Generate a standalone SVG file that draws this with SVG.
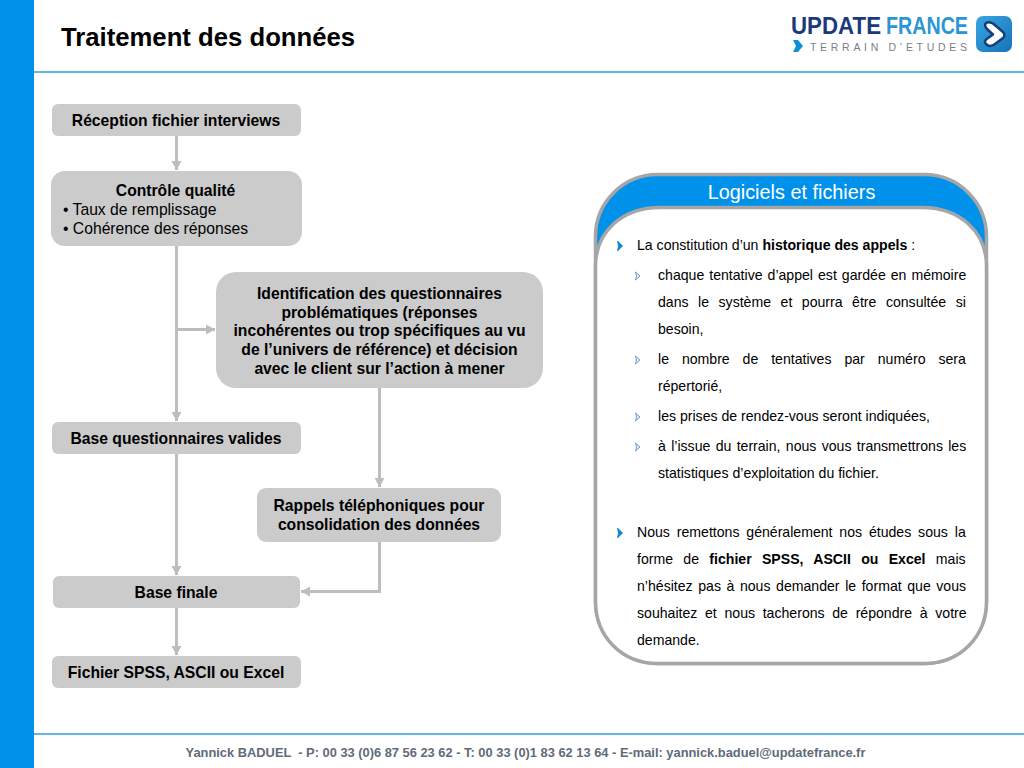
<svg xmlns="http://www.w3.org/2000/svg" width="1024" height="768" viewBox="0 0 1024 768">
<style>
text{font-family:"Liberation Sans",Arial,sans-serif;fill:#000}
.n{fill:#CBCBCB}
.t{font-size:15.7px;font-weight:bold;text-anchor:middle}
.r{font-size:15.7px}
.b{font-size:14.1px}
.c{fill:none;stroke:#BDBDBD;stroke-width:3}
.bl{font-weight:bold}
</style>
<defs>
<marker id="a" markerWidth="11" markerHeight="11" refX="9" refY="5" orient="auto" markerUnits="userSpaceOnUse"><path d="M0 0L9 5L0 10Z" fill="#BDBDBD"/></marker>
<linearGradient id="ic" x1="0" y1="0" x2="1" y2="1"><stop offset="0" stop-color="#3AA6E2"/><stop offset="1" stop-color="#1673B8"/></linearGradient>
<path id="b1" d="M617.500 -5L622.500 0L617.500 5L618.500 0Z" fill="#0F7FD0" stroke="#0F7FD0" stroke-width="0.800"/>
<path id="b2" d="M635.500 -4L640 0L635.500 4L636.500 0Z" fill="#E4EEF8" stroke="#6F9CCB" stroke-width="1"/>
</defs>
<rect width="1024" height="768" fill="#fff"/>
<rect id="sidebar" width="34" height="768" fill="#0091EA"/>
<rect x="34" y="71" width="990" height="2" fill="#66B5DE"/>
<rect x="34" y="733" width="990" height="2" fill="#66B5DE"/>
<text x="61" y="45.500" font-size="25.700" font-weight="bold">Traitement des données</text>
<g id="logo">
<text x="791" y="34" font-size="23" font-weight="bold" style="fill:#1B3A7E" textLength="90" lengthAdjust="spacingAndGlyphs">UPDATE</text>
<text x="886" y="34" font-size="23" font-weight="bold" style="fill:#2B96D2" textLength="82" lengthAdjust="spacingAndGlyphs">FRANCE</text>
<path d="M793 40L798 40L803 46L798 52L793 52L796 46Z" fill="#0F8FD8"/>
<text x="810" y="50.500" font-size="10.500" style="fill:#7A8088" textLength="157">TERRAIN D’ETUDES</text>
<rect x="976" y="16" width="36" height="36" rx="7" fill="url(#ic)"/>
<path d="M986 23C990 21 993 23 996 26L1003 32C1005 34 1005 36 1003 38L995 44C991 47 988 46 986 44C984 42 985 40 988 38L993 34.500L988 30C985 27 984 25 986 23Z" fill="#fff" stroke="#123F7A" stroke-width="2.500" stroke-linejoin="round"/>
</g>
<g id="connectors">
<path class="c" d="M176.500 136V170" marker-end="url(#a)"/>
<path class="c" d="M176.500 245V421" marker-end="url(#a)"/>
<path class="c" d="M177 329.500H215" marker-end="url(#a)"/>
<path class="c" d="M176.500 453V575" marker-end="url(#a)"/>
<path class="c" d="M176.500 607V655" marker-end="url(#a)"/>
<path class="c" d="M379.500 388V487" marker-end="url(#a)"/>
<path class="c" d="M379.500 541V591.500H301" marker-end="url(#a)"/>
</g>
<g id="n1"><rect class="n" x="52" y="104" width="249" height="32" rx="6"/><text class="t" x="176" y="125.500">Réception fichier interviews</text></g>
<g id="n2"><rect class="n" x="51" y="171" width="251" height="75" rx="14"/><text class="t" x="175.500" y="195.500">Contrôle qualité</text><text class="r" x="63" y="214.500">• Taux de remplissage</text><text class="r" x="63" y="233.500">• Cohérence des réponses</text></g>
<g id="n3"><rect class="n" x="216" y="272" width="327" height="116" rx="20"/>
<text class="t" x="379.500" y="298.500">Identification des questionnaires</text>
<text class="t" x="379.500" y="317.500">problématiques (réponses</text>
<text class="t" x="379.500" y="336">incohérentes ou trop spécifiques au vu</text>
<text class="t" x="379.500" y="354.500">de l’univers de référence) et décision</text>
<text class="t" x="379.500" y="373.500">avec le client sur l’action à mener</text></g>
<g id="n4"><rect class="n" x="52" y="422" width="249" height="32" rx="6"/><text class="t" x="176" y="443.500">Base questionnaires valides</text></g>
<g id="n5"><rect class="n" x="257" y="488" width="244" height="54" rx="9"/><text class="t" x="379" y="511">Rappels téléphoniques pour</text><text class="t" x="379" y="530">consolidation des données</text></g>
<g id="n6"><rect class="n" x="53" y="576" width="247" height="32" rx="6"/><text class="t" x="176" y="597.500">Base finale</text></g>
<g id="n7"><rect class="n" x="52" y="656" width="249" height="32" rx="6"/><text class="t" x="176" y="677.500">Fichier SPSS, ASCII ou Excel</text></g>
<g id="panel">
<rect x="595.500" y="174.500" width="391" height="489" rx="62" fill="#0091EA" stroke="#A6A6A6" stroke-width="3.500"/>
<path d="M595.500 266C595.500 232 622 207.500 660 207.500H922C960 207.500 986.500 232 986.500 266V601C986.500 637 960 663.500 924 663.500H658C622 663.500 595.500 637 595.500 601Z" fill="#fff" stroke="#A6A6A6" stroke-width="3.500"/>
<text x="791.500" y="198.500" font-size="19.850" text-anchor="middle" style="fill:#fff">Logiciels et fichiers</text>
<use href="#b1" y="246"/><text class="b" x="637" y="249.500">La constitution d’un <tspan class="bl">historique des appels</tspan> :</text>
<use href="#b2" y="276"/><text class="b" x="658" y="279.500" word-spacing="1.100">chaque tentative d’appel est gardée en mémoire</text>
<text class="b" x="658" y="306.500" word-spacing="5.600">dans le système et pourra être consultée si</text>
<text class="b" x="658" y="333.500">besoin,</text>
<use href="#b2" y="360"/><text class="b" x="658" y="363.500" word-spacing="9">le nombre de tentatives par numéro sera</text>
<text class="b" x="658" y="390.500">répertorié,</text>
<use href="#b2" y="417"/><text class="b" x="658" y="420.500">les prises de rendez-vous seront indiquées,</text>
<use href="#b2" y="447"/><text class="b" x="658" y="450.500" word-spacing="1.400">à l’issue du terrain, nous vous transmettrons les</text>
<text class="b" x="658" y="477.500">statistiques d’exploitation du fichier.</text>
<use href="#b1" y="533"/><text class="b" x="637" y="536.500" word-spacing="2.950">Nous remettons généralement nos études sous la</text>
<text class="b" x="637" y="563.500" word-spacing="6.400">forme de <tspan class="bl">fichier SPSS, ASCII ou Excel</tspan> mais</text>
<text class="b" x="637" y="590.500" word-spacing="1.670">n’hésitez pas à nous demander le format que vous</text>
<text class="b" x="637" y="617.500" word-spacing="3.770">souhaitez et nous tacherons de répondre à votre</text>
<text class="b" x="637" y="644.500">demande.</text>
</g>
<text x="525.500" y="757" font-size="12.860" font-weight="bold" text-anchor="middle" style="fill:#5F6B7A" xml:space="preserve">Yannick BADUEL  - P: 00 33 (0)6 87 56 23 62 - T: 00 33 (0)1 83 62 13 64 - E-mail: yannick.baduel@updatefrance.fr</text>
</svg>
